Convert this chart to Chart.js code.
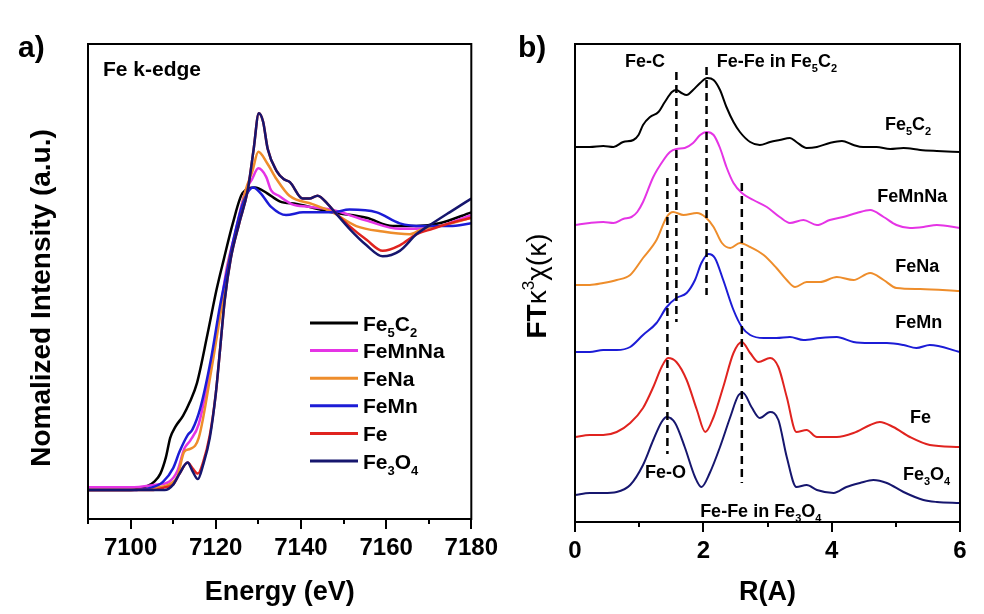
<!DOCTYPE html>
<html>
<head>
<meta charset="utf-8">
<script src="https://cdn.jsdelivr.net/npm/chart.js@4.4.1/dist/chart.umd.min.js"></script>
<style>
html, body { margin: 0; padding: 0; background: #fff; }
#wrap { position: relative; width: 984px; height: 614px; overflow: hidden; }
canvas { position: absolute; top: 0; }
#xanes { left: 0; }
#ft { left: 500px; }
</style>
</head>
<body>
<div id="wrap">
  <canvas id="xanes" width="513" height="614"></canvas>
  <canvas id="ft" width="484" height="614"></canvas>
</div>
<script>
'use strict';

const FONT = '"Liberation Sans", Arial, sans-serif';

// ---- panel a: Fe K-edge XANES, [energy eV, normalized intensity] ----
const XANES_FE5C2 = [[7090,0.00],[7100,0.00],[7102,0.005],[7104,0.015],[7105.5,0.03],[7107,0.06],[7108.3,0.12],
  [7109.3,0.19],[7110.5,0.23],[7112.3,0.27],[7113.9,0.32],[7115.6,0.39],[7118.1,0.57],[7120.2,0.73],[7121.9,0.84],
  [7124,0.97],[7126.3,1.08],[7129.2,1.10],[7132,1.08],[7135,1.05],[7139,1.04],[7147.4,1.01],[7155.4,0.99],
  [7161.5,0.96],[7167.1,0.96],[7172.5,0.97],[7180,1.01]];
const XANES_FEMNNA = [[7090,0.01],[7100,0.01],[7106,0.02],[7109,0.03],[7111,0.07],[7112.6,0.15],[7114,0.18],
  [7116,0.24],[7118.8,0.45],[7121.2,0.67],[7122.6,0.81],[7124.5,0.93],[7126.8,1.08],[7128.5,1.13],[7130,1.17],
  [7131.8,1.14],[7133,1.09],[7134.8,1.07],[7137.8,1.04],[7141.8,1.03],[7147,1.02],[7155.4,0.98],[7163.2,0.95],
  [7167.1,0.95],[7172.5,0.96],[7180,1.00]];
const XANES_FENA = [[7090,0.00],[7100,0.00],[7106,0.01],[7109,0.02],[7111,0.05],[7112.6,0.14],[7114,0.15],
  [7116,0.19],[7119,0.44],[7121.4,0.67],[7123,0.83],[7125,0.95],[7127,1.09],[7128.6,1.16],[7130,1.23],[7132,1.19],
  [7134.3,1.13],[7137.3,1.07],[7142.7,1.04],[7147.4,1.01],[7153,0.96],[7159.2,0.94],[7165.5,0.93],[7168.6,0.95],
  [7172.5,0.96],[7180,0.99]];
const XANES_FEMN = [[7090,0.00],[7100,0.00],[7105,0.01],[7107.6,0.03],[7110,0.08],[7111.5,0.14],[7113.4,0.20],
  [7114.5,0.22],[7116.4,0.30],[7118.8,0.47],[7121,0.67],[7122.7,0.80],[7124,0.90],[7126.3,1.04],[7128.8,1.10],
  [7130.5,1.08],[7133,1.03],[7136.5,1.00],[7140.5,1.01],[7147.4,1.01],[7151.4,1.02],[7157.8,1.01],[7163.2,0.97],
  [7168.6,0.96],[7174.9,0.96],[7180,0.97]];
const XANES_FE = [[7090,0.00],[7100,0.00],[7105,0.00],[7108,0.01],[7110,0.02],[7111.5,0.06],[7113.4,0.10],
  [7114.5,0.08],[7115.8,0.06],[7117,0.10],[7118.6,0.20],[7120,0.35],[7121,0.51],[7122.1,0.69],[7123.5,0.84],
  [7125.5,0.97],[7127.5,1.09],[7128.9,1.24],[7130.1,1.37],[7131.1,1.34],[7132.2,1.24],[7134.3,1.16],[7136,1.13],
  [7137.4,1.12],[7140.4,1.06],[7142,1.06],[7143.9,1.07],[7146.3,1.04],[7148,1.01],[7151.4,0.96],[7155.4,0.91],
  [7159.2,0.87],[7163.2,0.89],[7167.1,0.93],[7170.9,0.95],[7174.9,0.97],[7180,0.99]];
const XANES_FE3O4 = [[7090,0.00],[7100,0.00],[7105,0.00],[7108,0.00],[7110,0.02],[7111.5,0.06],[7113.4,0.10],
  [7114.5,0.07],[7115.8,0.04],[7117,0.09],[7118.6,0.19],[7120,0.35],[7121,0.51],[7122.1,0.69],[7123.5,0.84],
  [7125.5,0.97],[7127.5,1.09],[7128.9,1.24],[7130.1,1.37],[7131.1,1.34],[7132.2,1.24],[7134.3,1.16],[7136,1.13],
  [7137.4,1.12],[7140.4,1.06],[7142,1.06],[7143.9,1.07],[7146.3,1.04],[7148,1.01],[7151.4,0.95],[7155.4,0.89],
  [7159.2,0.85],[7163.2,0.87],[7167.1,0.93],[7170.9,0.97],[7174.9,1.01],[7180,1.06]];
const XANES_TICK_LABELS = [7100, 7120, 7140, 7160, 7180];

// ---- panel b: FT k3 chi(k), stacked, [R, amplitude + offset] ----
const FT_FE5C2 = [[0,37.5],[0.23,37.5],[0.44,37.6],[0.6,37.5],[0.75,38.0],[0.91,38.2],[0.99,38.7],[1.06,39.7],
  [1.17,40.5],[1.3,41.0],[1.4,42.0],[1.51,43.0],[1.58,43.2],[1.66,42.9],[1.74,42.7],[1.84,43.2],[1.95,43.9],
  [2.06,44.4],[2.16,44.2],[2.26,43.2],[2.36,41.5],[2.47,40.0],[2.57,39.0],[2.73,38.0],[2.88,37.7],[3.04,38.0],
  [3.19,38.2],[3.35,38.4],[3.45,38.0],[3.61,37.4],[3.77,37.5],[3.97,37.9],[4.16,38.1],[4.34,37.7],[4.49,37.5],
  [4.7,37.5],[4.91,37.3],[5.12,37.4],[5.38,37.2],[5.64,37.1],[6,37.0]];
const FT_FEMNNA = [[0,29.7],[0.23,29.9],[0.44,30.0],[0.6,29.9],[0.75,30.3],[0.88,30.5],[0.97,31.0],[1.06,32.0],
  [1.22,34.5],[1.38,36.2],[1.48,37.0],[1.58,37.3],[1.71,37.4],[1.84,37.9],[1.95,38.7],[2.05,39.0],[2.16,38.7],
  [2.26,37.4],[2.36,35.5],[2.47,33.9],[2.6,32.9],[2.78,32.2],[2.99,31.5],[3.19,30.5],[3.35,29.9],[3.56,30.2],
  [3.77,29.7],[3.97,30.2],[4.18,30.5],[4.39,30.9],[4.6,31.2],[4.81,30.5],[5.01,29.7],[5.22,29.4],[5.43,29.5],
  [5.64,29.7],[6,29.4]];
const FT_FENA = [[0,23.7],[0.23,23.7],[0.44,23.9],[0.65,24.2],[0.86,24.7],[1.06,26.4],[1.27,28.2],[1.43,30.5],
  [1.53,31.0],[1.69,30.7],[1.9,30.9],[2.03,30.5],[2.16,29.5],[2.29,27.9],[2.42,27.4],[2.57,27.9],[2.73,27.5],
  [2.94,26.7],[3.14,25.4],[3.3,24.2],[3.43,23.5],[3.61,24.0],[3.82,24.0],[4.08,24.5],[4.34,24.2],[4.6,24.9],
  [4.81,24.2],[5.01,23.4],[5.38,23.3],[6,23.1]];
const FT_FEMN = [[0,17.0],[0.23,17.0],[0.44,17.2],[0.65,17.2],[0.86,17.5],[1.06,18.7],[1.27,19.9],[1.43,21.5],
  [1.58,22.4],[1.74,22.9],[1.87,24.2],[1.97,25.9],[2.08,26.8],[2.18,26.4],[2.31,24.2],[2.47,21.2],[2.6,19.5],
  [2.73,18.7],[2.94,18.4],[3.14,18.4],[3.35,18.5],[3.56,18.2],[3.82,18.4],[4.08,18.5],[4.34,18.0],[4.6,17.9],
  [4.86,17.9],[5.12,17.7],[5.32,17.4],[5.53,17.7],[6,17.0]];
const FT_FE = [[0,8.5],[0.23,8.7],[0.44,8.7],[0.65,9.0],[0.86,9.9],[1.06,11.4],[1.22,13.5],[1.35,15.5],[1.45,16.4],
  [1.58,16.0],[1.74,14.2],[1.9,11.2],[2.03,9.0],[2.16,10.5],[2.31,13.5],[2.47,16.9],[2.6,18.0],[2.73,16.9],
  [2.86,16.0],[3.04,16.4],[3.17,15.5],[3.3,12.5],[3.45,9.0],[3.61,9.2],[3.77,8.5],[4.08,8.5],[4.34,8.9],[4.6,9.7],
  [4.75,10.0],[4.96,9.5],[5.22,8.5],[5.53,7.7],[6,7.5]];
const FT_FE3O4 = [[0,2.7],[0.23,2.9],[0.44,2.9],[0.65,3.0],[0.86,3.7],[1.06,5.7],[1.22,8.2],[1.35,10.0],[1.43,10.5],
  [1.56,9.9],[1.71,7.5],[1.87,4.5],[1.97,3.5],[2.1,4.9],[2.26,7.5],[2.42,10.5],[2.55,12.7],[2.62,12.9],[2.75,11.5],
  [2.88,10.4],[3.04,11.0],[3.17,10.2],[3.3,6.5],[3.45,3.5],[3.61,3.7],[3.77,3.2],[4.03,2.9],[4.23,3.5],[4.44,3.9],
  [4.65,4.2],[4.86,3.9],[5.12,3.0],[5.43,2.2],[5.64,2.0],[6,1.9]];
// dashed markers: [R, top, bottom]
const FT_MARKERS = [[1.58,45.0,20.0],[2.05,45.5,22.7],[1.44,34.4,6.8],[2.60,33.9,3.9]];
const FT_TICK_LABELS = [0, 2, 4, 6];

const SAMPLES = [
    { label: 'Fe_5C_2', color: '#000000', xanes: XANES_FE5C2,  ft: FT_FE5C2  },
    { label: 'FeMnNa',  color: '#e534e5', xanes: XANES_FEMNNA, ft: FT_FEMNNA },
    { label: 'FeNa',    color: '#ee8d2b', xanes: XANES_FENA,   ft: FT_FENA   },
    { label: 'FeMn',    color: '#1c1cd6', xanes: XANES_FEMN,   ft: FT_FEMN   },
    { label: 'Fe',      color: '#e0231f', xanes: XANES_FE,     ft: FT_FE     },
    { label: 'Fe_3O_4', color: '#16166e', xanes: XANES_FE3O4,  ft: FT_FE3O4  },
];

const FT_LABELS = [
    { text: 'Fe-C', x: 0.78, y: 45.5 },
    { text: 'Fe-Fe in Fe_5C_2', x: 2.21, y: 45.5 },
    { text: 'Fe_5C_2', x: 4.83, y: 39.2 },
    { text: 'FeMnNa', x: 4.71, y: 32.0 },
    { text: 'FeNa', x: 4.99, y: 25.0 },
    { text: 'FeMn', x: 4.99, y: 19.4 },
    { text: 'Fe', x: 5.22, y: 9.9 },
    { text: 'Fe_3O_4', x: 5.11, y: 4.2 },
    { text: 'Fe-O', x: 1.09, y: 4.4 },
    { text: 'Fe-Fe in Fe_3O_4', x: 1.95, y: 0.5 },
];

const toXY = arr => arr.map(p => ({ x: p[0], y: p[1] }));

// text with _x subscripts and ^x superscripts
function richSegments(text) {
    const segs = [];
    for (let i = 0; i < text.length; i++) {
        const c = text[i];
        if ((c === '_' || c === '^') && i + 1 < text.length) {
            segs.push({ t: text[i + 1], mode: c === '_' ? 'sub' : 'sup' });
            i++;
        } else {
            const last = segs[segs.length - 1];
            if (last && last.mode === 'base') last.t += c;
            else segs.push({ t: c, mode: 'base' });
        }
    }
    return segs;
}

function measureRich(ctx, text, size, weight) {
    let w = 0;
    richSegments(text).forEach(s => {
        ctx.font = `${weight} ${s.mode === 'base' ? size : Math.round(size * 0.62)}px ${FONT}`;
        w += ctx.measureText(s.t).width;
    });
    return w;
}

function drawRich(ctx, text, x, y, size, weight) {
    let cx = x;
    ctx.textBaseline = 'alphabetic';
    ctx.textAlign = 'left';
    ctx.fillStyle = '#000';
    richSegments(text).forEach(s => {
        ctx.font = `${weight} ${s.mode === 'base' ? size : Math.round(size * 0.62)}px ${FONT}`;
        const dy = s.mode === 'sub' ? size * 0.3 : (s.mode === 'sup' ? -size * 0.42 : 0);
        ctx.fillText(s.t, cx, y + dy);
        cx += ctx.measureText(s.t).width;
    });
    return cx - x;
}

function drawFrameTicks(chart, minor, majorBase, major) {
    const { ctx, chartArea: a, scales: { x } } = chart;
    ctx.save();
    ctx.strokeStyle = '#000';
    ctx.lineWidth = 2;
    ctx.strokeRect(a.left, a.top, a.right - a.left, a.bottom - a.top);
    for (let v = x.min; v <= x.max + 1e-9; v += minor) {
        const px = Math.round(x.getPixelForValue(v));
        const isMajor = Math.abs(((v - majorBase) / major) - Math.round((v - majorBase) / major)) < 1e-6;
        ctx.beginPath();
        ctx.moveTo(px, a.bottom);
        ctx.lineTo(px, a.bottom + (isMajor ? 10 : 5));
        ctx.stroke();
    }
    ctx.restore();
}

function xAxis(min, max, step, labels, title, height) {
    return {
        type: 'linear', min, max,
        ticks: {
            stepSize: step, autoSkip: false, maxRotation: 0, padding: 15, color: '#000',
            font: { family: FONT, size: 24, weight: 'bold' },
            callback: v => labels.includes(Math.round(v * 1000) / 1000) ? String(v) : null,
        },
        grid: { display: false, drawTicks: false },
        border: { display: false },
        title: {
            display: true, text: title, color: '#000',
            font: { family: FONT, size: 27, weight: 'bold' },
            padding: { top: 0, bottom: 5 },
        },
        afterFit: s => { s.height = height; },
    };
}

const baseOptions = {
    responsive: false,
    animation: false,
    devicePixelRatio: 1,
    events: [],
    plugins: { legend: { display: false }, tooltip: { enabled: false } },
};

// ---- panel a ----
new Chart(document.getElementById('xanes').getContext('2d'), {
    type: 'line',
    data: {
        datasets: SAMPLES.map((s, i) => ({
            label: s.label,
            data: toXY(s.xanes),
            borderColor: s.color,
            borderWidth: 2.5,
            pointRadius: 0,
            fill: false,
            cubicInterpolationMode: 'monotone',
            order: SAMPLES.length - i,
        })),
    },
    options: {
        ...baseOptions,
        layout: { padding: { left: 88, right: 30, top: 44, bottom: 0 } },
        scales: {
            x: xAxis(7090, 7180, 10, XANES_TICK_LABELS, 'Energy (eV)', 95),
            y: { display: false, min: -0.105, max: 1.622 },
        },
    },
    plugins: [{
        id: 'xanesDecor',
        afterDraw(chart) {
            const ctx = chart.ctx;
            drawFrameTicks(chart, 10, 7100, 20);
            ctx.save();
            drawRich(ctx, 'a)', 18, 57, 30, 'bold');
            drawRich(ctx, 'Fe k-edge', 103, 76, 21, 'bold');
            // legend
            SAMPLES.forEach((s, i) => {
                const y = 323 + i * 27.6;
                ctx.strokeStyle = s.color;
                ctx.lineWidth = 3;
                ctx.beginPath();
                ctx.moveTo(310, y);
                ctx.lineTo(358, y);
                ctx.stroke();
                drawRich(ctx, s.label, 363, y + 7.5, 21, 'bold');
            });
            // y title
            ctx.translate(50, 298);
            ctx.rotate(-Math.PI / 2);
            const t = 'Nomalized Intensity (a.u.)';
            drawRich(ctx, t, -measureRich(ctx, t, 28, 'bold') / 2, 0, 28, 'bold');
            ctx.restore();
        },
    }],
});

// ---- panel b ----
new Chart(document.getElementById('ft').getContext('2d'), {
    type: 'line',
    data: {
        datasets: SAMPLES.map((s, i) => ({
            label: s.label,
            data: toXY(s.ft),
            borderColor: s.color,
            borderWidth: 2,
            pointRadius: 0,
            fill: false,
            cubicInterpolationMode: 'monotone',
            order: SAMPLES.length - i,
        })).concat(FT_MARKERS.map(m => ({
            label: 'marker',
            data: [{ x: m[0], y: m[1] }, { x: m[0], y: m[2] }],
            borderColor: '#000',
            borderWidth: 2.5,
            borderDash: [8, 5],
            pointRadius: 0,
            fill: false,
            tension: 0,
            order: -1,
        }))),
    },
    options: {
        ...baseOptions,
        layout: { padding: { left: 75, right: 24, top: 44, bottom: 0 } },
        scales: {
            x: xAxis(0, 6, 1, FT_TICK_LABELS, 'R(A)', 92),
            y: { display: false, min: 0, max: 47.8 },
        },
    },
    plugins: [{
        id: 'ftDecor',
        afterDraw(chart) {
            const { ctx, scales: { x, y } } = chart;
            drawFrameTicks(chart, 1, 0, 2);
            ctx.save();
            drawRich(ctx, 'b)', 18, 57, 30, 'bold');
            FT_LABELS.forEach(l => {
                drawRich(ctx, l.text, x.getPixelForValue(l.x), y.getPixelForValue(l.y), 18, 'bold');
            });
            // y title: FT k^3 chi(k)
            ctx.translate(46, 286);
            ctx.rotate(-Math.PI / 2);
            const w1 = measureRich(ctx, 'FT', 28, 'bold');
            const w2 = measureRich(ctx, 'κ^3χ(κ)', 28, 'normal');
            const x0 = -(w1 + w2) / 2;
            drawRich(ctx, 'FT', x0, 0, 28, 'bold');
            drawRich(ctx, 'κ^3χ(κ)', x0 + w1, 0, 28, 'normal');
            ctx.restore();
        },
    }],
});
</script>
</body>
</html>
